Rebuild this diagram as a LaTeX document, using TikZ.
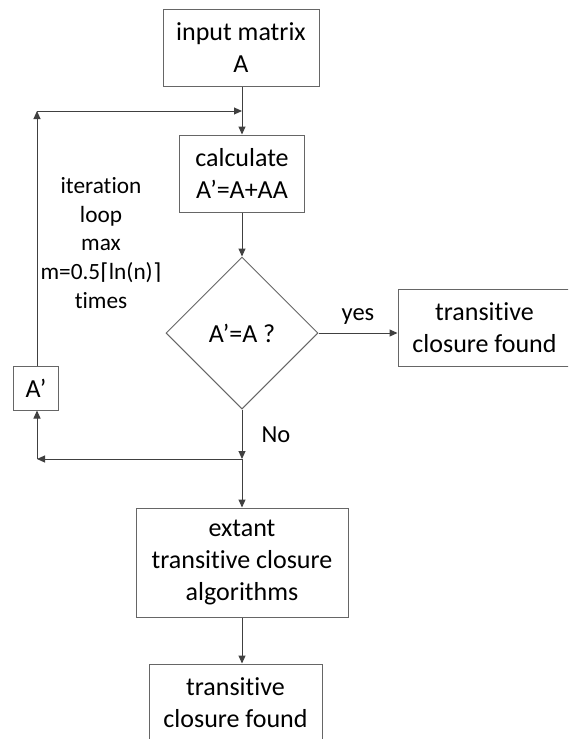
\documentclass[tikz,border=0pt]{standalone}
\usepackage{fontspec}
\setmainfont{Carlito}[Ligatures={NoCommon}]
\newfontfamily\symfont{DejaVu Sans}
\usetikzlibrary{arrows.meta,shapes.geometric}

\tikzset{
  stepbox/.style={draw=black!60, line width=1pt, rectangle, align=center,
    inner sep=0pt, font=\fontsize{26}{32}\selectfont},
  testbox/.style={draw=black!60, line width=1pt, diamond, aspect=1,
    inner sep=0pt, minimum width=152pt, minimum height=152pt,
    font=\fontsize{26}{32}\selectfont},
  flow/.style={draw=black!75, line width=1pt,
    -{Triangle[length=8pt,width=7pt]}},
  lbl/.style={font=\fontsize{24.5}{30}\selectfont, inner sep=0pt},
  note/.style={font=\fontsize{23.3}{28.6}\selectfont, align=center, inner sep=0pt}
}

\begin{document}
\begin{tikzpicture}[x=1pt,y=-1pt]
\useasboundingbox (0,0) rectangle (568,739);
\clip (0,0) rectangle (568,739);

% main column of steps
\node[stepbox, minimum width=156pt, minimum height=77pt] (input) at (241,47.5) {input matrix\\A};
\node[stepbox, minimum width=125pt, minimum height=77pt] (calc) at (242,173.5) {calculate\\A’=A+AA};
\node[testbox] (test) at (242,333) {A’=A ?};
\node[stepbox, minimum width=173pt, minimum height=77pt] (found) at (484.5,327.5) {transitive\\closure found};
\node[stepbox, minimum width=45pt, minimum height=44pt] (aprime) at (36,388) {A’};
\node[stepbox, minimum width=212pt, minimum height=109pt] (extant) at (242,562.5) {extant\\transitive closure\\algorithms};
\node[stepbox, minimum width=173pt, minimum height=77pt] (final) at (235.5,702.5) {transitive\\closure found};

% loop bookkeeping points
\coordinate (loopTL) at (37,111);
\coordinate (loopTR) at (242,111);
\coordinate (join) at (242,459);
\coordinate (loopBL) at (37,459);

% connectors
\draw[flow] (input.south -| loopTR) -- (calc.north -| loopTR);
\draw[flow] (aprime.north -| loopTL) -- (loopTL);
\draw[flow] (loopTL) -- (loopTR);
\draw[flow] (calc.south -| test.north) -- (test.north);
\draw[flow] (test.east) -- (found.west |- test.east);
\draw[flow] (test.south) -- (join);
\draw[flow] (join) -- (loopBL);
\draw[flow] (loopBL) -- (aprime.south -| loopBL);
\draw[flow] (join) -- (extant.north -| join);
\draw[flow] (extant.south -| join) -- (final.north -| join);

% labels
\node[lbl, anchor=base] (yes) at (358,320) {yes};
\node[lbl, anchor=base] (no) at (276,442) {No};
\node[note] (iter) at (101,243) {iteration\\loop\\max\\m=0.5{\symfont\fontsize{22}{28.6}\selectfont ⌈}ln(n){\symfont\fontsize{22}{28.6}\selectfont ⌉}\\times};
\end{tikzpicture}
\end{document}
